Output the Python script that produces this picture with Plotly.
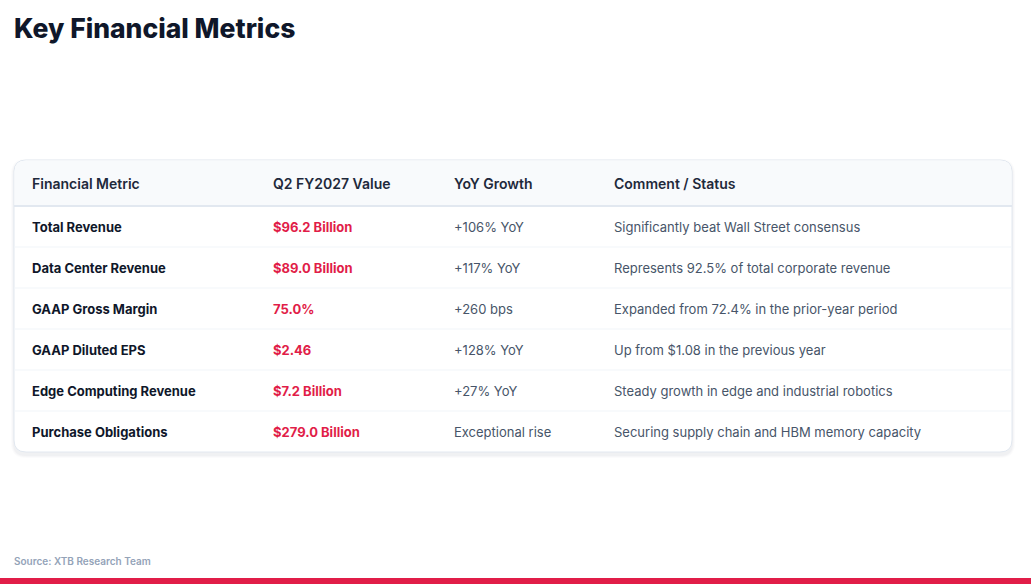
import plotly.graph_objects as go

# table content
headers = ["Financial Metric", "Q2 FY2027 Value", "YoY Growth", "Comment / Status"]
metrics = ["Total Revenue", "Data Center Revenue", "GAAP Gross Margin",
           "GAAP Diluted EPS", "Edge Computing Revenue", "Purchase Obligations"]
values = ["$96.2 Billion", "$89.0 Billion", "75.0%", "$2.46", "$7.2 Billion", "$279.0 Billion"]
growth = ["+106% YoY", "+117% YoY", "+260 bps", "+128% YoY", "+27% YoY", "Exceptional rise"]
comments = ["Significantly beat Wall Street consensus",
            "Represents 92.5% of total corporate revenue",
            "Expanded from 72.4% in the prior-year period",
            "Up from $1.08 in the previous year",
            "Steady growth in edge and industrial robotics",
            "Securing supply chain and HBM memory capacity"]

W, H = 1031, 584
FONT = "Inter"
RED = "#e11d48"

# card geometry (pixel units, y downwards)
card_l, card_r, card_t = 14, 1012, 160
head_h, row_h = 46, 41
card_b = card_t + head_h + row_h * len(metrics)
col_x = [30, 271, 452, 612]


def rounded(x0, y0, x1, y1, r):
    return (f"M{x0+r},{y0} L{x1-r},{y0} Q{x1},{y0} {x1},{y0+r} "
            f"L{x1},{y1-r} Q{x1},{y1} {x1-r},{y1} L{x0+r},{y1} "
            f"Q{x0},{y1} {x0},{y1-r} L{x0},{y0+r} Q{x0},{y0} {x0+r},{y0} Z")


def top_rounded(x0, y0, x1, y1, r):
    return (f"M{x0+r},{y0} L{x1-r},{y0} Q{x1},{y0} {x1},{y0+r} "
            f"L{x1},{y1} L{x0},{y1} L{x0},{y0+r} Q{x0},{y0} {x0+r},{y0} Z")


shapes = []
# soft shadow
for i, op in enumerate([0.025, 0.02, 0.015]):
    d = i + 1
    shapes.append(dict(type="path", path=rounded(card_l - d, card_t - d + 2, card_r + d, card_b + d + 3, 12 + d),
                       fillcolor=f"rgba(15,23,42,{op})", line=dict(width=0), layer="below"))
shapes.append(dict(type="path", path=rounded(card_l, card_t, card_r, card_b, 12),
                   fillcolor="white", line=dict(color="#e2e8f0", width=1), layer="below"))
shapes.append(dict(type="path", path=top_rounded(card_l + 0.5, card_t + 0.5, card_r - 0.5, card_t + head_h, 12),
                   fillcolor="#f8fafc", line=dict(width=0), layer="below"))
shapes.append(dict(type="line", x0=card_l, x1=card_r, y0=card_t + head_h, y1=card_t + head_h,
                   line=dict(color="#e2e8f0", width=2)))
for i in range(1, len(metrics)):
    y = card_t + head_h + row_h * i
    shapes.append(dict(type="line", x0=card_l, x1=card_r, y0=y, y1=y,
                       line=dict(color="#f1f5f9", width=1)))
# bottom accent bar
shapes.append(dict(type="rect", x0=0, x1=W, y0=578, y1=H, fillcolor=RED, line=dict(width=0)))

annotations = []
for j, h in enumerate(headers):
    annotations.append(dict(x=col_x[j], y=card_t + head_h / 2, text=h, xanchor="left", yanchor="middle",
                            showarrow=False, font=dict(family=FONT, size=14, color="#1e293b", weight=600)))

cols = [metrics, values, growth, comments]
styles = [dict(family=FONT, size=13, color="#0f172a", weight=700),
          dict(family=FONT, size=13, color=RED, weight=700),
          dict(family=FONT, size=13, color="#475569"),
          dict(family=FONT, size=13, color="#475569")]
for j, col in enumerate(cols):
    for i, txt in enumerate(col):
        annotations.append(dict(x=col_x[j], y=card_t + head_h + row_h * (i + 0.5) + 0.5, text=txt,
                                xanchor="left", yanchor="middle", showarrow=False, font=styles[j]))

annotations.append(dict(x=12, y=28, text="Key Financial Metrics", xanchor="left", yanchor="middle",
                        showarrow=False, font=dict(family=FONT, size=26.5, color="#0f172a", weight=800)))
annotations.append(dict(x=12, y=561, text="Source: XTB Research Team", xanchor="left", yanchor="middle",
                        showarrow=False, font=dict(family=FONT, size=10, color="#94a3b8", weight=600)))

fig = go.Figure()
fig.update_layout(
    width=W, height=H,
    margin=dict(l=0, r=0, t=0, b=0),
    paper_bgcolor="white", plot_bgcolor="white",
    xaxis=dict(range=[0, W], visible=False, fixedrange=True),
    yaxis=dict(range=[H, 0], visible=False, fixedrange=True),
    shapes=shapes, annotations=annotations,
    showlegend=False,
)
# drop the browser's default body margin so the figure sits at the page origin
fig.write_html("out.html", config={"displayModeBar": False},
               post_script="document.body.style.margin='0';document.body.style.overflow='hidden';")
